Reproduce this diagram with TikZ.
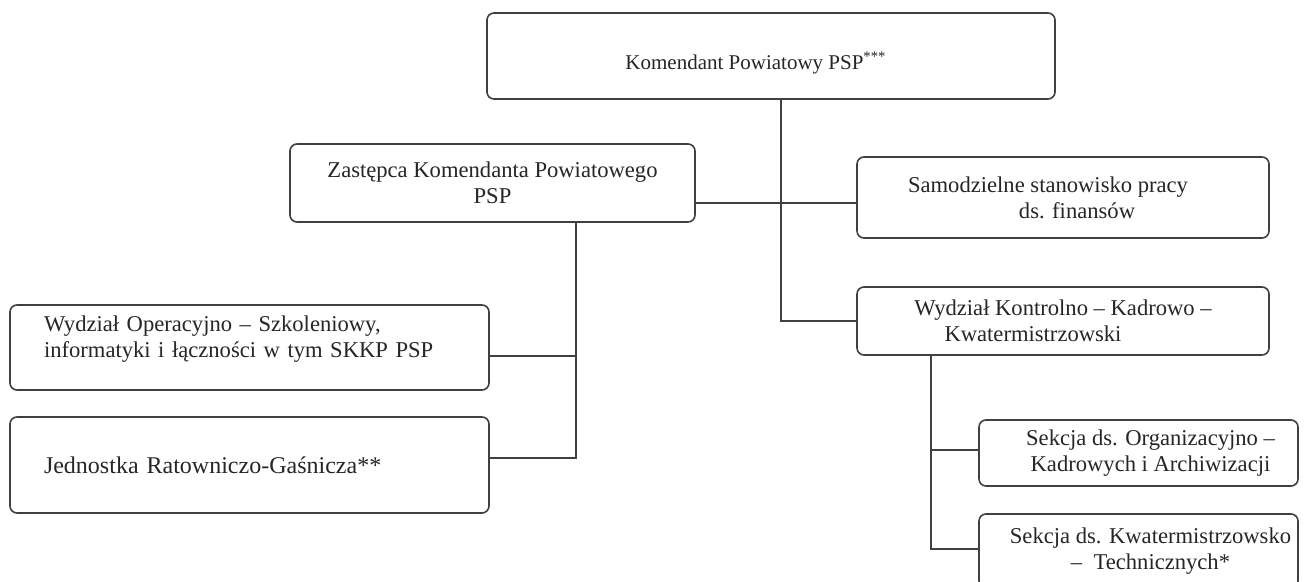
\documentclass[tikz,border=0pt]{standalone}
\usepackage{fontspec}
\setmainfont{Liberation Serif}
\usetikzlibrary{positioning}
\tikzset{
  unit/.style={draw=black!75, line width=0.8pt, rounded corners=3.5pt, fill=white,
    text=black!85, inner sep=0pt, align=center, font=\fontsize{11.3}{13}\selectfont},
  leftunit/.style={unit, align=left, inner xsep=17pt},
  link/.style={draw=black!75, line width=0.8pt},
}
\begin{document}
\begin{tikzpicture}[x=0.5pt,y=-0.5pt]
\useasboundingbox (0,0) rectangle (1304,582);
%Komendant
\node[unit, minimum width=284pt, minimum height=43pt, font=\fontsize{10.5}{12.5}\selectfont] (kom) at (771,56)
  {\raisebox{-3.5pt}[\height][\depth]{Komendant Powiatowy PSP\textsuperscript{***}}\hspace*{15pt}};
%Zastepca
\node[unit, minimum width=202.5pt, minimum height=39pt] (zast) at (492.5,183)
  {Zastępca Komendanta Powiatowego\\PSP};
%Right column
\node[unit, minimum width=206pt, minimum height=40.5pt] (sam) at (1063,197.5)
  {\hspace*{-15pt}Samodzielne stanowisko pracy\\\hspace*{14pt}ds. finansów};
\node[unit, minimum width=206pt, minimum height=34pt] (wk) at (1063,321)
  {Wydział Kontrolno – Kadrowo –\\\hspace*{-30pt}Kwatermistrzowski};
%Left column
\node[leftunit, text width=205.5pt, minimum height=42.5pt] (oper) at (249.5,347.5)
  {\raisebox{4pt}[\height][\depth]{\begin{tabular}{@{}l@{}}Wydział Operacyjno – Szkoleniowy,\\informatyki i łączności w tym SKKP PSP\end{tabular}}};
\node[leftunit, text width=205.5pt, minimum height=48pt, font=\fontsize{12}{14}\selectfont] (jrg) at (249.5,465)
  {Jednostka Ratowniczo-Gaśnicza**};
%Sections
\node[unit, minimum width=159.5pt, minimum height=33pt] (sorg) at (1138.5,453)
  {\hspace*{12pt}Sekcja ds. Organizacyjno –\\\hspace*{12pt}Kadrowych i Archiwizacji};
\node[unit, minimum width=159.5pt, minimum height=37pt] (skw) at (1138.5,551)
  {\hspace*{12pt}Sekcja ds. Kwatermistrzowsko\\\hspace*{12pt}–~~Technicznych*};
%Lines
\draw[link] ([xshift=5pt]kom.south) |- (wk.west);
\draw[link] ([yshift=10pt]zast.south east) coordinate (zr) -- (zr -| sam.west);
\draw[link] ([xshift=41.75pt]zast.south) coordinate (lt) |- ([yshift=3.5pt]jrg.east);
\draw[link] ([yshift=-4.25pt]oper.east) coordinate (op) -- (op -| lt);
\draw[link] ([xshift=-66pt]wk.south) coordinate (rt) |- ([yshift=1pt]skw.west);
\draw[link] ([yshift=1.5pt]sorg.west) coordinate (so) -- (so -| rt);
\end{tikzpicture}
\end{document}
